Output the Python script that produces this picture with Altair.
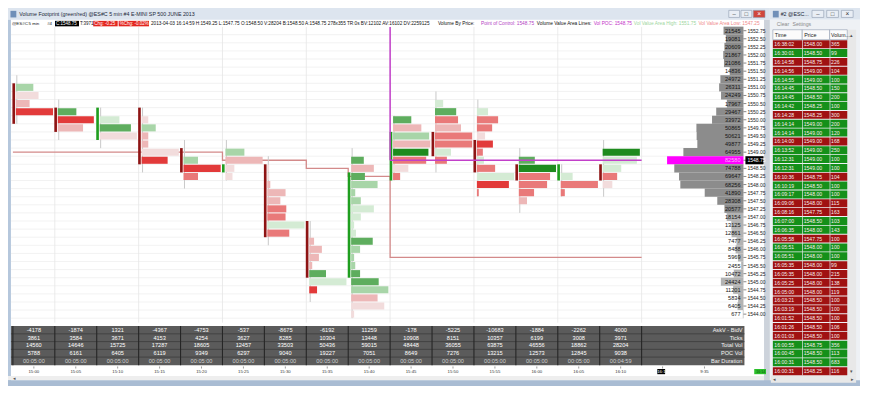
import altair as alt
import pandas as pd

FONT = "Liberation Sans"
W, H = 852, 378


def px(v):
    return v * W / 870.0


def py(v):
    return v * H / 400.0


# ---------------------------------------------------------------- data
bar_times = ["15:00", "15:05", "15:10", "15:15", "15:20", "15:25", "15:30", "15:35",
             "15:40", "15:45", "15:50", "15:55", "16:00", "16:05", "16:10"]
extra_times = ["16:14", "9:35"]

askv_bidv = [-4178, -1874, 1321, -4367, -4753, -537, -8675, -6192, 11259, -178, -5225, -10683, -1884, -2262, 4000]
ticks_row = [3861, 3584, 3671, 4153, 4254, 3627, 8285, 10304, 13448, 10908, 8151, 10357, 6199, 3008, 3971]
total_vol = [14560, 14646, 15725, 17287, 18605, 12457, 33503, 50436, 59015, 48448, 36055, 63875, 46556, 18862, 28204]
poc_vol = [5788, 6161, 6405, 6119, 9349, 6297, 9040, 19227, 7051, 8649, 7276, 13215, 12573, 12845, 9038]
bar_duration = ["00:05:00"] * 14 + ["00:04:59"]
row_labels = ["AskV - BidV", "Ticks", "Total Vol", "POC Vol", "Bar Duration"]

bar_open = [1551.00, 1550.25, 1549.50, 1550.25, 1549.00, 1548.50, 1548.50, 1546.75,
            1545.25, 1548.25, 1549.50, 1549.25, 1548.50, 1548.25, 1548.50]
bar_close = [1550.00, 1549.75, 1550.25, 1548.75, 1548.50, 1548.50, 1546.50, 1545.25,
             1548.25, 1549.50, 1549.00, 1548.50, 1548.25, 1548.50, 1548.25]
bar_high = [1551.25, 1550.50, 1550.25, 1550.25, 1549.25, 1549.25, 1548.75, 1546.75,
            1549.00, 1550.00, 1550.75, 1550.50, 1549.00, 1548.50, 1549.25]
bar_low = [1550.00, 1549.50, 1549.25, 1548.50, 1548.00, 1548.25, 1546.25, 1544.50,
           1544.00, 1548.25, 1548.50, 1547.75, 1547.25, 1547.75, 1547.75]

# footprint cells: (price, volume as % of the bar's POC volume, delta shade -4..4)
fp_1500 = [(1551.00, 47, 2), (1550.75, 61, -1), (1550.50, 37, -2), (1550.25, 100, -4)]
fp_1505 = [(1550.25, 50, 3), (1550.00, 97, -4), (1549.75, 68, -2)]
fp_1510 = [(1550.00, 53, 1), (1549.75, 84, 3), (1549.50, 100, -1)]
fp_1515 = [(1550.00, 18, -1), (1549.75, 38, 2), (1549.50, 18, -2), (1549.25, 18, -2),
           (1549.00, 100, -1), (1548.75, 70, -4)]
fp_1520 = [(1548.75, 39, 2), (1548.50, 100, -4), (1548.25, 39, -3)]
fp_1525 = [(1549.00, 51, 2), (1548.75, 100, -2), (1548.50, 24, -1), (1548.25, 19, -1)]
fp_1530 = [(1548.50, 5, -1), (1548.25, 5, -1), (1548.00, 8, -2), (1547.75, 49, -2),
           (1547.50, 35, -2), (1547.25, 51, -3), (1547.00, 49, -3), (1546.75, 100, 1),
           (1546.50, 59, -3)]
fp_1535 = [(1546.25, 13, -2), (1546.00, 34, -2), (1545.75, 26, -2), (1545.50, 8, -2),
           (1545.25, 45, 3), (1545.00, 100, 1), (1544.75, 21, -4)]
fp_1540 = [(1548.75, 34, 3), (1548.50, 61, -2), (1548.25, 37, 3), (1548.00, 71, 2),
           (1547.75, 11, 2), (1547.50, 26, 2), (1547.25, 61, 1), (1547.00, 26, 1),
           (1546.75, 8, 1), (1546.50, 13, 1), (1546.25, 58, 3), (1546.00, 24, 2),
           (1545.75, 8, 2), (1545.50, 11, 2), (1545.25, 24, 3), (1545.00, 74, 3),
           (1544.75, 100, 2), (1544.50, 71, -2), (1544.25, 89, -1), (1544.00, 8, -1)]
fp_1545 = [(1550.00, 49, 3), (1549.75, 76, -2), (1549.50, 97, 2), (1549.25, 100, -2),
           (1549.00, 95, 4), (1548.75, 89, -3), (1548.50, 41, -1), (1548.25, 19, -3)]
fp_1550 = [(1550.50, 22, 1), (1550.25, 57, 3), (1550.00, 62, -3), (1549.75, 70, -2),
           (1549.50, 100, -3), (1549.25, 100, -3), (1549.00, 43, 1), (1548.75, 32, -3)]
fp_1555 = [(1550.25, 30, 1), (1550.00, 57, -3), (1549.75, 41, -3), (1549.50, 22, -1),
           (1549.25, 43, -4), (1549.00, 16, -3), (1548.75, 19, 1), (1548.50, 49, -3),
           (1548.25, 100, 1), (1548.00, 86, -4), (1547.75, 5, -3)]
fp_1600 = [(1548.75, 43, 3), (1548.50, 100, 4), (1548.25, 84, -3), (1548.00, 76, -3),
           (1547.75, 41, -3), (1547.50, 22, -2)]
fp_1605 = [(1548.25, 32, 1), (1548.00, 100, -3), (1547.75, 11, -3)]
fp_1610 = [(1549.00, 100, 4), (1548.75, 92, 1), (1548.50, 50, 1), (1548.25, 39, -3),
           (1548.00, 26, -1)]
footprints = [fp_1500, fp_1505, fp_1510, fp_1515, fp_1520, fp_1525, fp_1530, fp_1535,
              fp_1540, fp_1545, fp_1550, fp_1555, fp_1600, fp_1605, fp_1610]

profile_prices = [1552.75, 1552.50, 1552.25, 1552.00, 1551.75, 1551.50, 1551.25, 1551.00,
                  1550.75, 1550.50, 1550.25, 1550.00, 1549.75, 1549.50, 1549.25, 1549.00,
                  1548.75, 1548.50, 1548.25, 1548.00, 1547.75, 1547.50, 1547.25, 1547.00,
                  1546.75, 1546.50, 1546.25, 1546.00, 1545.75, 1545.50, 1545.25, 1545.00,
                  1544.75, 1544.50, 1544.25, 1544.00]
profile_vol = [21545, 19081, 20609, 21867, 21086, 14836, 24972, 26311, 24249, 17967, 29467,
               33972, 50865, 50621, 49877, 64955, 82580, 74788, 69647, 68256, 41890, 28308,
               20577, 18154, 13125, 12861, 7477, 8488, 5969, 2455, 10472, 24424, 11201,
               5834, 6405, 677]
value_area_low = 1547.25
last_price = 1548.75

# developing value-area-low (rosy) line and session POC (magenta)
val_bar = [0, 5, 7, 8, 9, 15]
val_price = [1549.00, 1548.75, 1548.50, 1548.25, 1545.75, 1545.75]
session_bar = 9
session_end_bar = 15
session_poc = 1548.75
grid_bars = [1, 3, 5, 7, 9, 11, 13, 15]

ts_time = ["16:38:02", "16:30:01", "16:14:58", "16:14:56", "16:14:55", "16:14:45", "16:14:45",
           "16:14:42", "16:14:28", "16:14:14", "16:14:14", "16:14:00", "16:13:52", "16:12:31",
           "16:12:31", "16:10:36", "16:10:19", "16:09:17", "16:09:06", "16:08:16", "16:07:00",
           "16:06:35", "16:05:58", "16:05:51", "16:05:51", "16:05:35", "16:05:35", "16:05:25",
           "16:05:00", "16:03:21", "16:03:19", "16:01:52", "16:01:26", "16:01:03", "16:00:55",
           "16:00:45", "16:00:31", "16:00:31"]
ts_price = [1548.00, 1548.50, 1548.75, 1549.00, 1549.00, 1548.50, 1548.50, 1548.25, 1548.25,
            1549.00, 1549.00, 1549.00, 1549.00, 1549.00, 1549.00, 1548.75, 1548.50, 1548.00,
            1548.00, 1547.75, 1548.50, 1548.00, 1547.75, 1548.00, 1548.00, 1548.00, 1548.00,
            1548.00, 1548.00, 1548.50, 1548.50, 1548.50, 1548.50, 1548.50, 1548.75, 1548.50,
            1548.50, 1548.25]
ts_vol = [365, 99, 226, 104, 100, 150, 200, 100, 300, 200, 120, 168, 250, 100, 100, 104, 100,
          100, 115, 163, 103, 143, 100, 100, 100, 99, 215, 138, 119, 100, 100, 100, 106, 100,
          356, 113, 683, 116]
ts_side = ["S", "B", "S", "S", "B", "B", "B", "B", "S", "B", "B", "S", "B", "B", "B", "S", "B",
           "B", "S", "S", "B", "B", "S", "B", "B", "S", "S", "S", "S", "S", "S", "S", "S", "S",
           "B", "B", "B", "S"]

# ---------------------------------------------------------------- scales
BAR_PX = 42.8
SX = alt.Scale(domain=[0, 870], range=[0, W], nice=False, zero=False)
SY = alt.Scale(domain=[0, 400], range=[0, H], nice=False, zero=False)
BX = alt.Scale(domain=[0, 14], range=[px(5), px(5 + BAR_PX * 14)], nice=False, zero=False)
PY = alt.Scale(domain=[1544.0, 1552.75], range=[py(24 + 8.57 * 35), py(24)], nice=False, zero=False)
TY = alt.Scale(domain=[0, 4], range=[py(340.7), py(373.5)], nice=False, zero=False)
RY = alt.Scale(domain=[0, 37], range=[py(38.3), py(384.3)], nice=False, zero=False)
VX = alt.Scale(domain=[0, max(profile_vol)], range=[px(751), px(673)], nice=False, zero=False)

shade_dom = [-4, -3, -2, -1, 1, 2, 3, 4]
shade_rng = ["#e23a3a", "#e97979", "#edb7b7", "#f2dcdc", "#d4ebd4", "#a8d5a8", "#5ead5e", "#1e8b1e"]


def chrome_rects(rows, stroke=None):
    df = pd.DataFrame(rows, columns=["x", "y", "x2", "y2", "fill"])
    if stroke:
        m = alt.Chart(df).mark_rect(stroke=stroke, strokeWidth=0.6)
    else:
        m = alt.Chart(df).mark_rect()
    return m.encode(
        x=alt.X("x:Q", scale=SX, axis=None), x2="x2:Q",
        y=alt.Y("y:Q", scale=SY, axis=None), y2="y2:Q",
        color=alt.Color("fill:N", scale=None),
    )


def chrome_text(rows, align="left", weight="normal"):
    df = pd.DataFrame(rows, columns=["x", "y", "text", "color", "size"])
    return alt.Chart(df).mark_text(align=align, baseline="middle", font=FONT, fontWeight=weight).encode(
        x=alt.X("x:Q", scale=SX, axis=None),
        y=alt.Y("y:Q", scale=SY, axis=None),
        text="text:N",
        color=alt.Color("color:N", scale=None),
        size=alt.Size("size:Q", scale=None),
    )


layers = []

# ---------------------------------------------------------------- window chrome
layers.append(chrome_rects([
    (0, 0, 778, 12.5, "#dde5ef"),
    (778, 0, 870, 12.5, "#dde5ef"),
    (0, 12.5, 3, 400, "#b5c7dc"),
    (772, 12.5, 778, 400, "#cdd3db"),
    (778, 12.5, 870, 400, "#eef1f5"),
    (0, 389.5, 772, 394, "#eeeeee"),
    (0, 394, 870, 400, "#a9bcd3"),
    (857, 23, 866, 389, "#e8e8e8"),
    (779, 389, 866, 396.5, "#e8e8e8"),
    (3, 336.5, 752, 378, "#5b5b5b"),
    (48, 13.6, 72.5, 19.4, "#000000"),
    (87, 13.6, 112, 19.4, "#e3261f"),
    (113, 13.6, 144, 19.4, "#e3261f"),
    (663, 382, 671, 387.5, "#000000"),
    (762, 382, 774, 387.5, "#2bc02b"),
    (2.5, 3, 8.5, 10, "#6f8fb8"),
    (781, 3, 787, 10, "#6f8fb8"),
    (811, 23, 811.7, 389, "#d8d8d8"),
    (839, 23, 839.7, 389, "#d8d8d8"),
]))

# ---------------------------------------------------------------- grid
edges = pd.DataFrame({"price": profile_prices})
layers.append(
    alt.Chart(edges).transform_calculate(b="datum.price - 0.125")
    .mark_rule(color="#ececec", strokeWidth=0.7)
    .encode(x=alt.value(px(3)), x2=alt.value(px(751)), y=alt.Y("b:Q", scale=PY, axis=None))
)
layers.append(
    alt.Chart(pd.DataFrame({"bar": grid_bars})).mark_rule(color="#e6e6e6", strokeWidth=0.8)
    .encode(x=alt.X("bar:Q", scale=BX, axis=None), y=alt.value(py(20)), y2=alt.value(py(333)))
)

# ---------------------------------------------------------------- developing value area low line
layers.append(
    alt.Chart(pd.DataFrame({"bar": val_bar, "price": val_price}))
    .mark_line(interpolate="step-after", color="#d38a8a", strokeWidth=1.3)
    .encode(x=alt.X("bar:Q", scale=BX, axis=None), y=alt.Y("price:Q", scale=PY, axis=None))
)

# ---------------------------------------------------------------- bars
bars = pd.DataFrame({"bar": list(range(len(bar_times))), "open": bar_open, "close": bar_close,
                     "high": bar_high, "low": bar_low})
bars["dir"] = ["up" if c >= o else "down" for o, c in zip(bar_open, bar_close)]

layers.append(
    alt.Chart(bars).transform_calculate(
        wx=f"datum.bar + {4 / BAR_PX}", wt="datum.high + 0.125", wb="datum.low - 0.125")
    .mark_rule(color="#c9c9c9", strokeWidth=1)
    .encode(x=alt.X("wx:Q", scale=BX, axis=None), y=alt.Y("wt:Q", scale=PY, axis=None), y2="wb:Q")
)

cells = pd.DataFrame([
    {"bar": i, "price": p, "pct": pct, "shade": s}
    for i, fp in enumerate(footprints) for (p, pct, s) in fp
])
layers.append(
    alt.Chart(cells).transform_calculate(
        x0=f"datum.bar + {3 / BAR_PX}",
        x1=f"datum.bar + (3 + datum.pct / 100 * 38) / {BAR_PX}",
        y0="datum.price + 0.109", y1="datum.price - 0.109")
    .mark_rect()
    .encode(
        x=alt.X("x0:Q", scale=BX, axis=None), x2="x1:Q",
        y=alt.Y("y0:Q", scale=PY, axis=None), y2="y1:Q",
        color=alt.Color("shade:O", scale=alt.Scale(domain=shade_dom, range=shade_rng), legend=None),
    )
)

layers.append(
    alt.Chart(bars).transform_calculate(
        cx0=f"datum.bar - {0.5 / BAR_PX}", cx1=f"datum.bar + {2.2 / BAR_PX}",
        ct="max(datum.open, datum.close) + 0.125", cb="min(datum.open, datum.close) - 0.125")
    .mark_rect()
    .encode(
        x=alt.X("cx0:Q", scale=BX, axis=None), x2="cx1:Q",
        y=alt.Y("ct:Q", scale=PY, axis=None), y2="cb:Q",
        color=alt.Color("dir:N", scale=alt.Scale(domain=["up", "down"], range=["#1f9e1f", "#8e1414"]), legend=None),
    )
)

# ---------------------------------------------------------------- session POC (magenta)
sess = pd.DataFrame({"bar": [session_bar], "end": [session_end_bar], "price": [session_poc]})
layers.append(
    alt.Chart(sess).mark_rule(color="#c23fc9", strokeWidth=1.5)
    .encode(x=alt.X("bar:Q", scale=BX, axis=None), y=alt.Y("price:Q", scale=PY, axis=None), y2=alt.value(py(20)))
)
layers.append(
    alt.Chart(sess).mark_rule(color="#c23fc9", strokeWidth=1.6)
    .encode(x=alt.X("bar:Q", scale=BX, axis=None), x2="end:Q", y=alt.Y("price:Q", scale=PY, axis=None))
)

# ---------------------------------------------------------------- volume profile
prof = pd.DataFrame({"price": profile_prices, "vol": profile_vol})
poc_p = profile_prices[profile_vol.index(max(profile_vol))]
prof["tone"] = ["poc" if p == poc_p else ("in" if p >= value_area_low else "out") for p in profile_prices]
layers.append(
    alt.Chart(prof).transform_calculate(y0="datum.price + 0.125", y1="datum.price - 0.125")
    .mark_rect()
    .encode(
        x=alt.X("vol:Q", scale=VX, axis=None), x2=alt.value(px(751)),
        y=alt.Y("y0:Q", scale=PY, axis=None), y2="y1:Q",
        color=alt.Color("tone:N", scale=alt.Scale(domain=["in", "out", "poc"], range=["#8c8c8c", "#b3b3b3", "#ff00ff"]), legend=None),
    )
)
layers.append(
    alt.Chart(prof).mark_text(align="right", baseline="middle", font=FONT, fontSize=5.6)
    .encode(
        x=alt.value(px(748)), y=alt.Y("price:Q", scale=PY, axis=None), text="vol:Q",
        color=alt.Color("tone:N", scale=alt.Scale(domain=["in", "out", "poc"], range=["#141414", "#141414", "#ffb0ff"]), legend=None),
    )
)

# price axis
layers.append(
    alt.Chart(prof).mark_rule(color="#555555", strokeWidth=0.7)
    .encode(x=alt.value(px(751)), x2=alt.value(px(754)), y=alt.Y("price:Q", scale=PY, axis=None))
)
cur = pd.DataFrame({"price": [last_price]})
layers.append(
    alt.Chart(cur).transform_calculate(y0="datum.price + 0.125", y1="datum.price - 0.125")
    .mark_rect(color="#000000")
    .encode(x=alt.value(px(753)), x2=alt.value(px(771.5)), y=alt.Y("y0:Q", scale=PY, axis=None), y2="y1:Q")
)
prof["lab"] = ["#ffffff" if p == last_price else "#222222" for p in profile_prices]
layers.append(
    alt.Chart(prof).mark_text(align="left", baseline="middle", font=FONT, fontSize=5.0)
    .encode(
        x=alt.value(px(755)), y=alt.Y("price:Q", scale=PY, axis=None),
        text=alt.Text("price:Q", format=".2f"), color=alt.Color("lab:N", scale=None),
    )
)

# ---------------------------------------------------------------- bottom table
table_rows = [askv_bidv, ticks_row, total_vol, poc_vol, bar_duration]
tab = pd.DataFrame([
    {"pos": i + 0.5, "r": r, "text": str(v), "col": "#d0d0d0" if r == 4 else "#ffffff"}
    for r, row in enumerate(table_rows) for i, v in enumerate(row)
])
layers.append(
    alt.Chart(pd.DataFrame({"r": [0.5, 1.5, 2.5, 3.5]})).mark_rule(color="#3c3c3c", strokeWidth=0.8)
    .encode(x=alt.value(px(3)), x2=alt.value(px(752)), y=alt.Y("r:Q", scale=TY, axis=None))
)
layers.append(
    alt.Chart(pd.DataFrame({"edge": list(range(len(bar_times) + 1))})).mark_rule(color="#262626", strokeWidth=1.1)
    .encode(x=alt.X("edge:Q", scale=BX, axis=None), y=alt.value(py(336.5)), y2=alt.value(py(378)))
)
layers.append(
    alt.Chart(tab).mark_text(align="center", baseline="middle", font=FONT, fontSize=5.6)
    .encode(x=alt.X("pos:Q", scale=BX, axis=None), y=alt.Y("r:Q", scale=TY, axis=None),
            text="text:N", color=alt.Color("col:N", scale=None))
)
layers.append(
    alt.Chart(pd.DataFrame({"r": list(range(5)), "text": row_labels})).mark_text(
        align="right", baseline="middle", font=FONT, fontSize=5.6, color="#f2f2f2")
    .encode(x=alt.value(px(750)), y=alt.Y("r:Q", scale=TY, axis=None), text="text:N")
)

# ---------------------------------------------------------------- time axis
tl = pd.DataFrame({"pos": [i + 0.5 for i in range(len(bar_times) + len(extra_times))],
                   "text": bar_times + extra_times})
tl["col"] = ["#ffffff" if t == extra_times[0] else "#333333" for t in tl["text"]]
layers.append(
    alt.Chart(tl).mark_rule(color="#777777", strokeWidth=0.7)
    .encode(x=alt.X("pos:Q", scale=BX, axis=None), y=alt.value(py(379.3)), y2=alt.value(py(381.5)))
)
layers.append(
    alt.Chart(tl).mark_text(align="center", baseline="middle", font=FONT, fontSize=4.3)
    .encode(x=alt.X("pos:Q", scale=BX, axis=None), y=alt.value(py(385)),
            text="text:N", color=alt.Color("col:N", scale=None))
)

# ---------------------------------------------------------------- time & sales
ts = pd.DataFrame({"k": list(range(len(ts_time))), "time": ts_time, "price": ts_price,
                   "vol": ts_vol, "side": ts_side})
layers.append(
    alt.Chart(ts).transform_calculate(y0="datum.k - 0.45", y1="datum.k + 0.45")
    .mark_rect()
    .encode(
        x=alt.value(px(781)), x2=alt.value(px(857)),
        y=alt.Y("y0:Q", scale=RY, axis=None), y2="y1:Q",
        color=alt.Color("side:N", scale=alt.Scale(domain=["S", "B"], range=["#a01212", "#15901a"]), legend=None),
    )
)
layers.append(chrome_rects([
    (811, 33.5, 811.7, 389, "#e6e6e6"),
    (839, 33.5, 839.7, 389, "#e6e6e6"),
]))
for col, xpos, fmt in [("time", 782.5, None), ("price", 812.5, ".2f"), ("vol", 840.5, None)]:
    t = alt.Text(f"{col}:Q", format=fmt) if fmt else alt.Text(f"{col}:N" if col == "time" else f"{col}:Q")
    layers.append(
        alt.Chart(ts).mark_text(align="left", baseline="middle", font=FONT, fontSize=5.1, color="#f6ecec")
        .encode(x=alt.value(px(xpos)), y=alt.Y("k:Q", scale=RY, axis=None), text=t)
    )

# ---------------------------------------------------------------- bordered chrome (buttons, header)
layers.append(chrome_rects([
    (736, 2.5, 747, 10, "#e9eef5"),
    (748.5, 2.5, 759.5, 10, "#e9eef5"),
    (761, 2.5, 773, 10, "#d0473d"),
    (821, 2.5, 833, 10, "#e9eef5"),
    (836, 2.5, 848, 10, "#e9eef5"),
    (851, 2.5, 863, 10, "#e9eef5"),
    (781, 23, 811, 33.5, "#fbfbfb"),
    (811, 23, 839, 33.5, "#fbfbfb"),
    (839, 23, 857, 33.5, "#fbfbfb"),
], stroke="#8e9cb0"))

# ---------------------------------------------------------------- chrome texts
layers.append(chrome_text([
    (11.5, 6.6, "Volume Footprint (green/red)  @ES#C  5 min   #4  E-MINI SP 500 JUNE 2013", "#1c2838", 5.3),
    (789, 6.6, "#2 @ESC...", "#1c2838", 5.3),
    (785, 17.4, "Clear", "#8a8a8a", 5.2),
    (801, 17.4, "Settings", "#8a8a8a", 5.2),
    (783, 28.4, "Time", "#222222", 5.4),
    (813, 28.4, "Price", "#222222", 5.4),
    (840.5, 28.4, "Volum...", "#222222", 5.2),
    (4, 16.6, "@ES#C", "#111111", 4.4),
    (21, 16.6, "5 min", "#111111", 4.4),
    (40, 16.6, "#4", "#111111", 4.4),
    (49, 16.6, "C:1548.75", "#ffffff", 4.5),
    (73.5, 16.6, "T:3971", "#111111", 4.5),
    (88, 16.6, "Chg: -0.25", "#ffffff", 4.5),
    (114, 16.6, "%Chg: -0.02%", "#ffffff", 4.5),
    (146, 16.6, "2013-04-03 16:14:59 H:1549.25 L:1547.75 O:1548.50 V:28204 B:1548.50 A:1548.75 278x355 TR:0s BV:12102 AV:16102 DV:2259125", "#111111", 4.7),
    (439, 16.6, "Volume By Price:", "#111111", 4.8),
    (483, 16.6, "Point of Control: 1548.75", "#b443c4", 4.8),
    (540, 16.6, "Volume Value Area Lines:", "#111111", 4.8),
    (598, 16.6, "Vol POC: 1548.75", "#c431c9", 4.8),
    (639, 16.6, "Vol Value Area High: 1551.75", "#9ed69e", 4.8),
    (705, 16.6, "Vol Value Area Low: 1547.25", "#ef8a8a", 4.8),
    (764, 384.8, "16:14", "#0b4d0b", 3.6),
]))
layers.append(chrome_text([
    (861.5, 28.2, "▴", "#555555", 5),
    (861.5, 384.5, "▾", "#555555", 5),
    (741.5, 6.4, "–", "#333333", 6),
    (754, 6.4, "□", "#333333", 6),
    (767, 6.4, "×", "#ffffff", 6.5),
    (827, 6.4, "–", "#333333", 6),
    (842, 6.4, "□", "#333333", 6),
    (857, 6.4, "×", "#333333", 6.5),
    (7, 391.8, "◂", "#555555", 5),
    (783, 393, "◂", "#555555", 5),
    (862, 393, "▸", "#555555", 5),
], align="center"))

chart = (
    alt.layer(*layers)
    .resolve_scale(x="independent", y="independent", color="independent", size="independent")
    .properties(width=W, height=H, padding=0, background="#ffffff",
                autosize=alt.AutoSizeParams(type="none"))
    .configure_view(stroke=None)
)

chart.save("out.html", embed_options={"renderer": "svg", "actions": False})
